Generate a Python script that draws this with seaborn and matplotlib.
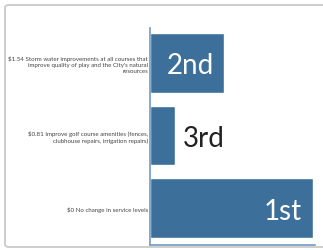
import matplotlib
matplotlib.use("Agg")
import matplotlib.pyplot as plt
import seaborn as sns
from matplotlib.patches import FancyBboxPatch

categories = [
    "\\$1.54 Storm water improvements at all courses that\nimprove quality of play and the City's natural\nresources",
    "\\$0.81 Improve golf course amenities (fences,\nclubhouse repairs, irrigation repairs)",
    "\\$0 No change in service levels",
]
values = [45, 15, 99]
ranks = ["2nd", "3rd", "1st"]

sns.set_theme(style="white")
plt.rcParams["font.family"] = ["Lato", "DejaVu Sans"]

fig = plt.figure(figsize=(3.23, 2.51), dpi=100)
fig.patch.set_facecolor("white")

card = FancyBboxPatch((5 / 323, 3 / 251), 1.2, 242 / 251,
                      boxstyle="round,pad=0,rounding_size=0.012",
                      transform=fig.transFigure, facecolor="none",
                      edgecolor="#c9c9c9", linewidth=1.3, zorder=-5)
fig.patches.append(card)

ax = fig.add_axes([150 / 323, 5.5 / 251, 165 / 323, 216.5 / 251])
ax.set_facecolor("none")
bar_color = "#3c6f99"
sns.barplot(x=values, y=categories, orient="h", color=bar_color, saturation=1,
            width=0.82, ax=ax)
ax.set_xlim(0, 100)
ax.set_ylim(2.49, -0.48)

for side in ["top", "right"]:
    ax.spines[side].set_visible(False)
for side in ["left", "bottom"]:
    ax.spines[side].set_color("#6f9bc4")
    ax.spines[side].set_linewidth(1.2)

ax.set_xticks([])
ax.set_xlabel("")
ax.set_ylabel("")
ax.tick_params(axis="y", which="major", length=0, pad=1.5, labelsize=4.45,
               labelcolor="#444444")
ax.set_yticks([0.5, 1.5, 2.5], minor=True)
ax.tick_params(axis="y", which="minor", length=2, width=0.6, color="#bbbbbb")
for lbl in ax.get_yticklabels():
    lbl.set_multialignment("right")
    lbl.set_linespacing(1.25)

# rank annotations
ax.text(values[0] / 2 + 2, 0, ranks[0], color="white", fontsize=20,
        ha="center", va="center_baseline")
ax.text(values[1] + 5, 1, ranks[1], color="#222222", fontsize=20,
        ha="left", va="center_baseline")
ax.text(values[2] - 7, 2, ranks[2], color="white", fontsize=20,
        ha="right", va="center_baseline")

fig.savefig("out.png", dpi=100, facecolor="white")
